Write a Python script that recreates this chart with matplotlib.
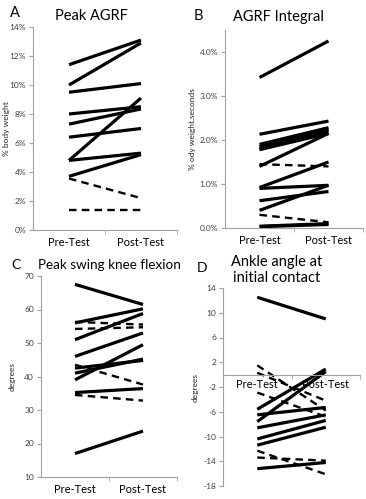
import numpy as np
import matplotlib.pyplot as plt

plt.rcParams["font.family"] = ["Lato", "DejaVu Sans"]

groups = ["Pre-Test", "Post-Test"]

# A: peak AGRF (% body weight)
a_pre = [11.4, 10.0, 9.5, 8.0, 7.3, 6.4, 4.8, 4.8, 3.7, 3.55, 1.4]
a_post = [13.1, 12.9, 10.1, 8.5, 8.35, 7.0, 9.1, 5.3, 5.2, 2.2, 1.4]
a_dash = [0, 0, 0, 0, 0, 0, 0, 0, 0, 1, 1]

# B: AGRF integral (% body weight.seconds)
b_pre = [3.42, 2.13, 1.90, 1.85, 1.80, 1.78, 1.40, 1.45, 0.92, 0.90, 0.62, 0.40, 0.30, 0.04, 0.03]
b_post = [4.25, 2.43, 2.28, 2.24, 2.20, 2.15, 2.15, 1.40, 1.50, 0.97, 0.83, 0.97, 0.13, 0.10, 0.08]
b_dash = [0, 0, 0, 0, 0, 0, 0, 1, 0, 0, 0, 0, 1, 0, 0]

# C: peak swing knee flexion (degrees)
c_pre = [67.5, 56.0, 56.3, 54.2, 51.0, 46.0, 42.5, 41.0, 39.0, 43.5, 35.2, 34.5, 17.0]
c_post = [61.5, 60.2, 55.5, 54.7, 58.8, 53.0, 44.8, 45.2, 49.5, 37.6, 36.4, 32.8, 23.7]
c_dash = [0, 0, 1, 1, 0, 0, 0, 0, 0, 1, 0, 1, 0]

# D: ankle angle at initial contact (degrees)
d_pre = [12.5, 1.5, 0.3, -2.9, -5.6, -7.6, -6.5, -8.6, -10.4, -11.4, -12.3, -13.4, -15.2]
d_post = [9.0, -5.8, -4.2, -6.8, 0.9, 0.5, -5.3, -6.5, -7.4, -8.5, -16.1, -13.9, -14.2]
d_dash = [0, 1, 1, 1, 0, 0, 0, 0, 0, 0, 1, 1, 0]

fig = plt.figure(figsize=(3.66, 4.99), dpi=100)

W, H = 366, 499


def make_ax(left, right, top, bottom):
    ax = fig.add_axes([left / W, (H - bottom) / H, (right - left) / W, (bottom - top) / H])
    ax._px = (left, right)
    return ax


def style(ax, yticks, fmt, ylabel, label_x, zero_axis=False):
    for s in ["top", "right"]:
        ax.spines[s].set_visible(False)
    if zero_axis:
        ax.spines["bottom"].set_position(("data", 0))
    for s in ["left", "bottom"]:
        ax.spines[s].set_color("#a0a0a0")
        ax.spines[s].set_linewidth(0.8)
    ax.set_xlim(-0.5, 1.5)
    ax.set_xticks([0, 1])
    ax.set_xticklabels(groups, fontsize=8)
    ax.set_xticks([0.5, 1.5], minor=True)
    ax.tick_params(axis="x", which="major", length=0, pad=3 if zero_axis else 5)
    ax.tick_params(axis="x", which="minor", length=3, color="#a0a0a0", direction="out")
    ax.set_yticks(yticks)
    ax.set_yticklabels([fmt(v) for v in yticks], fontsize=6, color="#404040")
    ax.tick_params(axis="y", length=3, color="#a0a0a0", pad=2)
    ax.set_ylabel(ylabel, fontsize=6, color="#202020")
    # label_x is the pixel position of the label's right edge
    left, right = ax._px
    ax.yaxis.set_label_coords((label_x - left) / (right - left), 0.5)


def draw(ax, pre, post, dash):
    for p, q, d in zip(pre, post, dash):
        if d:
            ax.plot([0, 1], [p, q], color="black", lw=1.7, ls=(0, (3.2, 2.2)),
                    solid_capstyle="butt", clip_on=False)
        else:
            ax.plot([0, 1], [p, q], color="black", lw=2.3, solid_capstyle="butt", clip_on=False)


axA = make_ax(33, 177, 27, 230)
draw(axA, a_pre, a_post, a_dash)
axA.set_ylim(0, 14)
style(axA, np.arange(0, 15, 2), lambda v: f"{v:.0f}%", "% body weight", 10)
fig.text(10 / W, 1 - 13 / H, "A", fontsize=10.5, va="center")
fig.text(91 / W, 1 - 16 / H, "Peak AGRF", fontsize=10.5, ha="center", va="center")

axB = make_ax(225, 363, 30, 228)
draw(axB, b_pre, b_post, b_dash)
axB.set_ylim(0, 4.5)
style(axB, np.arange(0, 4.5, 1.0), lambda v: f"{v:.1f}%", "% ody weight.seconds", 196)
fig.text(194 / W, 1 - 16 / H, "B", fontsize=10.5, va="center")
fig.text(278 / W, 1 - 17 / H, "AGRF Integral", fontsize=10.5, ha="center", va="center")

axC = make_ax(41, 177, 276, 477)
draw(axC, c_pre, c_post, c_dash)
axC.set_ylim(10, 70)
style(axC, np.arange(10, 71, 10), lambda v: f"{v:.0f}", "degrees", 16)
fig.text(11 / W, 1 - 265 / H, "C", fontsize=10, va="center")
fig.text(38 / W, 1 - 265 / H, "Peak swing knee flexion", fontsize=9.7, va="center")

axD = make_ax(223, 360, 288, 486)
draw(axD, d_pre, d_post, d_dash)
axD.set_ylim(-18, 14)
style(axD, np.arange(-18, 15, 4), lambda v: f"{v:.0f}", "degrees", 199, zero_axis=True)
fig.text(197 / W, 1 - 268 / H, "D", fontsize=10, va="center")
fig.text(277 / W, 1 - 270 / H, "Ankle angle at\ninitial contact", fontsize=10.5,
         ha="center", va="center", linespacing=1.1)

fig.savefig("out.png", dpi=100)
